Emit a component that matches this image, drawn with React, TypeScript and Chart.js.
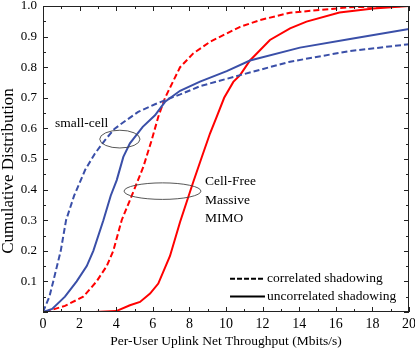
import React, { useEffect, useRef } from "react";
import { Chart, registerables } from "chart.js";

Chart.register(...registerables);

// Per-user uplink net throughput (Mbits/s) and cumulative distribution values
const smallCellCorrX = [0, 0.35, 0.56, 0.97, 1.26, 1.7, 2.3, 2.84, 3.39, 3.9, 4.3, 5.2, 6.12, 7.0, 7.5, 8.58, 10.77, 13.5, 16.78, 20];
const smallCellCorrY = [0, 0.05, 0.1, 0.2, 0.3, 0.38, 0.464, 0.518, 0.562, 0.598, 0.616, 0.654, 0.679, 0.70, 0.711, 0.738, 0.774, 0.818, 0.853, 0.875];

const smallCellUncorrX = [0, 0.5, 1.2, 1.84, 2.39, 2.75, 3.3, 3.7, 4.03, 4.39, 4.75, 5.45, 6.12, 6.67, 7.49, 8.58, 10.04, 11.31, 14.04, 16.78, 20];
const smallCellUncorrY = [0, 0.01, 0.05, 0.1, 0.15, 0.2, 0.3, 0.38, 0.431, 0.507, 0.551, 0.605, 0.643, 0.687, 0.723, 0.753, 0.787, 0.822, 0.864, 0.892, 0.925];

const cellFreeCorrX = [0.1, 1.2, 2.2, 2.93, 3.48, 3.84, 4.3, 4.85, 5.48, 5.94, 6.3, 6.67, 7.12, 7.49, 8.21, 9.13, 10.77, 11.86, 13.5, 16.78, 20];
const cellFreeCorrY = [0, 0.02, 0.05, 0.1, 0.15, 0.2, 0.3, 0.38, 0.474, 0.562, 0.638, 0.70, 0.755, 0.80, 0.845, 0.883, 0.932, 0.954, 0.978, 0.996, 1.0];

const cellFreeUncorrX = [2.84, 4.0, 4.75, 5.3, 5.85, 6.3, 6.94, 7.49, 7.94, 8.21, 8.67, 9.13, 9.49, 9.9, 10.4, 10.77, 11.31, 12.4, 13.5, 14.4, 16.2, 18.05, 20];
const cellFreeUncorrY = [0, 0.003, 0.022, 0.033, 0.06, 0.093, 0.183, 0.294, 0.376, 0.425, 0.505, 0.584, 0.638, 0.70, 0.752, 0.774, 0.822, 0.889, 0.927, 0.949, 0.979, 0.992, 1.0];

const xTitle = "Per-User Uplink Net Throughput (Mbits/s)";
const yTitle = "Cumulative Distribution";
const legendLabels = ["correlated shadowing", "uncorrelated shadowing"];
const smallCellLabel = "small-cell";
const cellFreeLabel = ["Cell-Free", "Massive", "MIMO"];

const BLUE = "#3a4fa8";
const RED = "#ff0000";
const SERIF = "'Liberation Serif', 'Times New Roman', serif";
const DASH = [6, 3];

const pts = (xs: number[], ys: number[]) => xs.map((x, i) => ({ x, y: ys[i] }));

const decorPlugin = {
  id: "decor",
  afterDraw(chart: any) {
    const { ctx, chartArea, scales } = chart;
    const xs = scales.x;
    const ys = scales.y;
    const X = (v: number) => xs.getPixelForValue(v);
    const Y = (v: number) => ys.getPixelForValue(v);
    ctx.save();
    // frame
    ctx.strokeStyle = "#222";
    ctx.lineWidth = 1;
    ctx.setLineDash([]);
    ctx.strokeRect(chartArea.left + 0.5, chartArea.top + 0.5, chartArea.right - chartArea.left - 1, chartArea.bottom - chartArea.top - 1);
    // inward ticks
    ctx.beginPath();
    for (let v = 0; v <= 20; v += 1) {
      const len = v % 2 === 0 ? 5 : 3;
      const px = Math.round(X(v)) + 0.5;
      ctx.moveTo(px, chartArea.bottom);
      ctx.lineTo(px, chartArea.bottom - len);
      ctx.moveTo(px, chartArea.top);
      ctx.lineTo(px, chartArea.top + len);
    }
    for (let i = 0; i <= 20; i++) {
      const v = i * 0.05;
      const len = i % 2 === 0 ? 5 : 3;
      const py = Math.round(Y(v)) + 0.5;
      ctx.moveTo(chartArea.left, py);
      ctx.lineTo(chartArea.left + len, py);
      ctx.moveTo(chartArea.right, py);
      ctx.lineTo(chartArea.right - len, py);
    }
    ctx.stroke();

    // ellipses
    ctx.strokeStyle = "#444";
    ctx.lineWidth = 0.9;
    ctx.beginPath();
    ctx.ellipse(X(4.2), Y(0.565), X(4.2) - X(3.1), Y(0.565) - Y(0.594), 0, 0, Math.PI * 2);
    ctx.stroke();
    ctx.beginPath();
    ctx.ellipse(X(6.53), Y(0.395), X(6.53) - X(4.43), Y(0.395) - Y(0.422), 0, 0, Math.PI * 2);
    ctx.stroke();

    // annotation text
    ctx.fillStyle = "#000";
    ctx.font = `13.5px ${SERIF}`;
    ctx.textBaseline = "middle";
    ctx.textAlign = "left";
    ctx.fillText(smallCellLabel, X(0.66), Y(0.617));
    const cfY = [0.425, 0.365, 0.305];
    cellFreeLabel.forEach((t, i) => ctx.fillText(t, X(8.85), Y(cfY[i])));

    // legend
    ctx.strokeStyle = "#000";
    ctx.lineWidth = 2;
    const rows = [0.109, 0.051];
    rows.forEach((r, i) => {
      ctx.beginPath();
      ctx.setLineDash(i === 0 ? [5, 2] : []);
      ctx.moveTo(X(10.22), Y(r));
      ctx.lineTo(X(12.13), Y(r));
      ctx.stroke();
      ctx.fillText(legendLabels[i], X(12.24), Y(r));
    });
    ctx.setLineDash([]);

    // y title
    ctx.translate(9, (chartArea.top + chartArea.bottom) / 2 + 12);
    ctx.rotate(-Math.PI / 2);
    ctx.textAlign = "center";
    ctx.font = `17px ${SERIF}`;
    ctx.fillText(yTitle, 0, 0);
    ctx.restore();
  },
};

export default function App() {
  const ref = useRef<HTMLCanvasElement>(null);
  useEffect(() => {
    document.body.style.margin = "0";
    const canvas = ref.current!;
    const chart = new Chart(canvas, {
      type: "line",
      data: {
        datasets: [
          { label: "small-cell correlated", data: pts(smallCellCorrX, smallCellCorrY), borderColor: BLUE, borderDash: DASH },
          { label: "small-cell uncorrelated", data: pts(smallCellUncorrX, smallCellUncorrY), borderColor: BLUE },
          { label: "cell-free correlated", data: pts(cellFreeCorrX, cellFreeCorrY), borderColor: RED, borderDash: DASH },
          { label: "cell-free uncorrelated", data: pts(cellFreeUncorrX, cellFreeUncorrY), borderColor: RED },
        ].map((d) => ({ ...d, borderWidth: 2, pointRadius: 0, tension: 0, fill: false })),
      },
      options: {
        animation: false,
        responsive: false,
        devicePixelRatio: 1,
        layout: { padding: { top: 6, right: 6, left: 0, bottom: 0 } },
        plugins: { legend: { display: false }, tooltip: { enabled: false } },
        scales: {
          x: {
            type: "linear",
            min: 0,
            max: 20,
            grid: { display: false, drawTicks: false },
            border: { display: false },
            ticks: { stepSize: 2, color: "#000", font: { family: SERIF, size: 14 }, padding: 4, maxRotation: 0 },
            title: { display: true, text: xTitle, color: "#000", font: { family: SERIF, size: 13.5 }, padding: { top: 2, bottom: 0 } },
            afterFit: (s: any) => { s.height = 38; s.paddingLeft = 0; s.paddingRight = 0; },
          },
          y: {
            type: "linear",
            min: 0,
            max: 1,
            grid: { display: false, drawTicks: false },
            border: { display: false },
            ticks: {
              stepSize: 0.1,
              color: "#000",
              font: { family: SERIF, size: 13 },
              padding: 6,
              callback: (v: any) => (Math.abs(v) < 1e-9 ? "" : Number(v).toFixed(1)),
            },
            afterFit: (s: any) => { s.width = 43; s.paddingTop = 0; s.paddingBottom = 0; },
          },
        },
      },
      plugins: [decorPlugin],
    });
    return () => chart.destroy();
  }, []);
  return <canvas ref={ref} width={415} height={350} style={{ display: "block" }} />;
}
